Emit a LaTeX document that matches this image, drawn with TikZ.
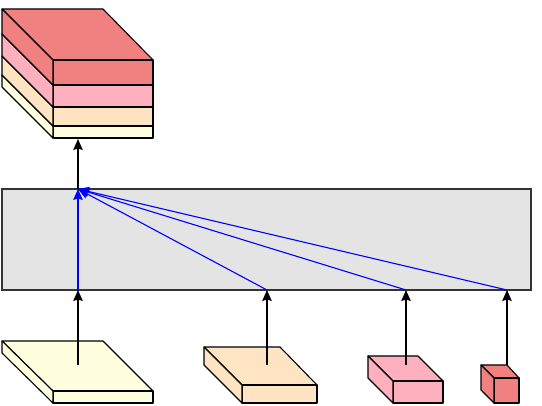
\documentclass[tikz,border=0pt]{standalone}
\usetikzlibrary{arrows.meta}
\definecolor{cyel}{RGB}{255,255,224}
\definecolor{cpea}{RGB}{255,228,196}
\definecolor{cpnk}{RGB}{255,176,190}
\definecolor{cred}{RGB}{241,128,128}
\definecolor{cgry}{RGB}{228,228,228}
\tikzset{
  face/.style={draw=black,line width=1.1pt,line join=round},
  conn/.style={draw=black,line width=1.3pt,-{Stealth[length=11pt,width=9.5pt,inset=1.5pt]}},
  blueconn/.style={draw=blue,line width=1.3pt,-{Stealth[length=11pt,width=9.5pt,inset=1.5pt]}},
  thinblue/.style={draw=blue,line width=1.1pt,-{Stealth[length=11pt,width=9.5pt,inset=1.5pt]}},
  panel/.style={draw=black!80,line width=1.1pt,fill=cgry,minimum width=529pt,minimum height=101pt,inner sep=0pt,outer sep=0pt}
}
% #1 colour, #2 back-left x, #3 back-right x, #4 back y, #5 front-left x, #6 front-right x, #7 front-top y, #8 bottom y
\newcommand{\slab}[8]{%
  \fill[#1,face] (#2,-#4) -- (#3,-#4) -- (#6,-#7) -- (#5,-#7) -- cycle;
  \fill[#1,face] (#5,-#7) -- (#6,-#7) -- (#6,-#8) -- (#5,-#8) -- cycle;
  \fill[#1,face] (#2,-#4) -- (#5,-#7) -- (#5,-#8) -- (#2,{-#4-(#8-#7)}) -- cycle;
}
\begin{document}
\begin{tikzpicture}[x=1pt,y=1pt]
\useasboundingbox (0,0) rectangle (542,-406);
% top stack
\slab{cyel}{2}{103}{75}{53}{153}{126}{138}
\slab{cpea}{2}{103}{56}{53}{153}{107}{126}
\slab{cpnk}{2}{103}{34}{53}{153}{85}{107}
\slab{cred}{2}{103}{9}{53}{153}{60}{85}
% panel
\node[panel] (panel) at (266.5,-239.5) {};
% bottom boxes
\slab{cyel}{2}{103}{341}{53}{153}{391}{403}
\slab{cpea}{204}{280}{347}{242}{317}{385}{403}
\slab{cpnk}{368}{418}{356}{393}{443}{381}{403}
\slab{cred}{481}{507}{365}{494}{519}{378}{403}
% anchors
\coordinate (stackbase) at (78,-139);
\coordinate (hub) at (78,-189);
\coordinate (p1) at (78,-290);
\coordinate (p2) at (267,-290);
\coordinate (p3) at (406,-290);
\coordinate (p4) at (507,-290);
\coordinate (b1) at (78,-365);
\coordinate (b2) at (267,-365);
\coordinate (b3) at (406,-365);
\coordinate (b4) at (507,-365);
% connectors
\draw[conn] (hub) -- (stackbase);
\draw[thinblue] (p4) -- (hub);
\draw[thinblue] (p3) -- (hub);
\draw[thinblue] (p2) -- (hub);
\draw[blueconn] (p1) -- (hub);
\draw[conn] (b1) -- (p1);
\draw[conn] (b2) -- (p2);
\draw[conn] (b3) -- (p3);
\draw[conn] (b4) -- (p4);
\end{tikzpicture}
\end{document}
